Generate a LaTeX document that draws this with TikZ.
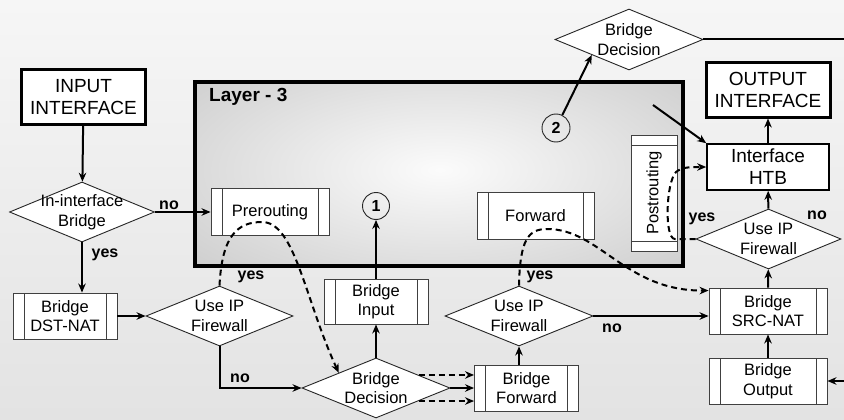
\documentclass[tikz,border=0pt]{standalone}
\usepackage{fontspec}
\setmainfont{Liberation Sans}
\usepackage{graphicx}
\usepackage{tikz}
\usetikzlibrary{arrows.meta, shapes.geometric, calc}
\tikzset{>={Stealth[length=9pt,width=7.5pt]}}

\begin{document}
\begin{tikzpicture}[x=1pt, y=-1pt,
	every node/.style={font=\fontsize{16.5}{19.5}\selectfont, align=center},
	proc/.style={draw=black!75, line width=0.9pt, fill=white, minimum width=104pt, minimum height=46pt, inner sep=0pt,
		path picture={\draw[black!75, line width=0.9pt] ([xshift=11pt]path picture bounding box.north west) -- ([xshift=11pt]path picture bounding box.south west)
			([xshift=-11pt]path picture bounding box.north east) -- ([xshift=-11pt]path picture bounding box.south east);}},
	vproc/.style={draw=black!75, line width=0.9pt, fill=white, minimum width=46pt, minimum height=116pt, inner sep=0pt,
		path picture={\draw[black!75, line width=0.9pt] ([yshift=-10pt]path picture bounding box.north west) -- ([yshift=-10pt]path picture bounding box.north east)
			([yshift=10pt]path picture bounding box.south west) -- ([yshift=10pt]path picture bounding box.south east);}},
	iface/.style={draw, line width=3pt, fill=white, minimum width=124pt, minimum height=54pt, inner sep=0pt, font=\fontsize{19}{22}\selectfont},
	dec/.style={diamond, draw=black!85, line width=0.9pt, fill=white, aspect=2.4, inner sep=-4pt, minimum width=147pt, minimum height=60pt},
	num/.style={circle, draw=black!85, line width=0.9pt, minimum size=27pt, inner sep=0pt, font=\fontsize{16}{18}\selectfont\bfseries},
	lbl/.style={font=\fontsize{16}{18}\selectfont\bfseries, inner sep=0pt},
	flow/.style={->, line width=2pt},
	alt/.style={->, line width=2pt, dash pattern=on 6pt off 4pt},
]
\useasboundingbox (0,0) rectangle (844,420);
\shade[top color=gray!7, bottom color=gray!22] (0,0) rectangle (844,420);

% layer 3 frame
\begin{scope}
	\clip (195,82) rectangle (683,266);
	\shade[inner color=white!97!gray, outer color=gray!66] (440,170) ellipse [x radius=600, y radius=260];
\end{scope}
\draw[line width=4pt] (195,82) rectangle (683,266);
\node[lbl, font=\fontsize{19}{22}\selectfont\bfseries, anchor=west] (l3) at (209,97) {Layer - 3};

\node[iface] (inif) at (83.5,97) {INPUT\\INTERFACE};
\node[iface] (outif) at (768,90) {OUTPUT\\INTERFACE};
\node[dec, minimum width=145pt] (ib) at (82,212) {In-interface\\Bridge};
\node[proc] (dst) at (65,316) {Bridge\\DST-NAT};
\node[dec] (fw1) at (219.5,316) {Use IP\\Firewall};
\node[proc, minimum width=118pt, minimum height=47pt] (pre) at (270,212) {Prerouting};
\node[num] (c1) at (376,206) {1};
\node[proc, minimum height=45pt] (bin) at (376,301.5) {Bridge\\Input};
\node[dec, minimum width=148pt] (bd) at (376,388) {Bridge\\Decision};
\node[proc] (bfw) at (526.5,388) {Bridge\\Forward};
\node[dec, minimum width=148pt] (fw2) at (519,316) {Use IP\\Firewall};
\node[proc, minimum width=117pt, minimum height=47pt] (fwd) at (535.5,215.5) {Forward};
\node[vproc] (post) at (654,193) {\rotatebox{90}{Postrouting}};
\node[num, minimum size=28pt] (c2) at (556,128) {2};
\node[dec, minimum width=148pt, minimum height=61pt] (bdt) at (629,39.5) {Bridge\\Decision};
\node[draw, line width=1.6pt, fill=white, minimum width=122pt, minimum height=46pt, inner sep=0pt, font=\fontsize{19}{22}\selectfont] (htb) at (768,167) {Interface\\HTB};
\node[dec, minimum width=145pt] (fw3) at (768.5,239) {Use IP\\Firewall};
\node[proc, minimum width=118pt] (src) at (768,311) {Bridge\\SRC-NAT};
\node[proc, minimum width=118pt] (bout) at (768,381) {Bridge\\Output};
\coordinate (l3out) at (653,105);
\coordinate (e1) at (844,39.5);
\coordinate (e2) at (844,381);

\node[lbl] (noib) at (169,205) {no};
\node[lbl] (yesib) at (105,255) {yes};
\node[lbl] (yesf1) at (251,277) {yes};
\node[lbl] (nof1) at (240,378) {no};
\node[lbl] (yesf2) at (540,277) {yes};
\node[lbl] (nof2) at (612,328) {no};
\node[lbl] (yesf3) at (702,219) {yes};
\node[lbl] (nof3) at (817,215) {no};

\draw[flow] (inif) -- (ib);
\draw[flow] (ib) -- (pre);
\draw[flow] (ib.south) -- (ib.south |- dst.north);
\draw[flow] (dst) -- (fw1);
\draw[flow] (fw1.south) |- (bd.west);
\draw[flow] (bd) -- (bin);
\draw[flow] (bin) -- (c1);
\draw[flow] (bd) -- (bfw);
\draw[alt] (bd.17) -- (bd.17 -| bfw.west);
\draw[alt] (bd.-17) -- (bd.-17 -| bfw.west);
\draw[flow] (fw2.south |- bfw.north) -- (fw2.south);
\draw[flow] (fw2.east) -- (fw2.east -| src.west);
\draw[flow] (bout) -- (src);
\draw[flow] (src) -- (fw3);
\draw[flow] (fw3) -- (htb);
\draw[flow] (htb) -- (outif);
\draw[flow] (e2) -- (bout);
\draw[line width=2pt] (bdt) -- (e1);
\draw[flow] (c2) -- (bdt.south west);
\draw[flow] (l3out) -- (htb.north west);

\draw[alt] (fw1.north) .. controls (222,235) and (238,222) .. (262,222) .. controls (295,222) and (305,300) .. (bd.north west);
\draw[alt] (fw2.north) .. controls (520,240) and (528,229) .. (547,229) .. controls (600,229) and (625,291) .. ([yshift=-3pt]src.north west);
\draw[alt] (fw3.west) -- (675,239) .. controls (664,239) and (666,182) .. (676,172) .. controls (682,167) and (690,167) .. (htb.west);
\end{tikzpicture}
\end{document}
